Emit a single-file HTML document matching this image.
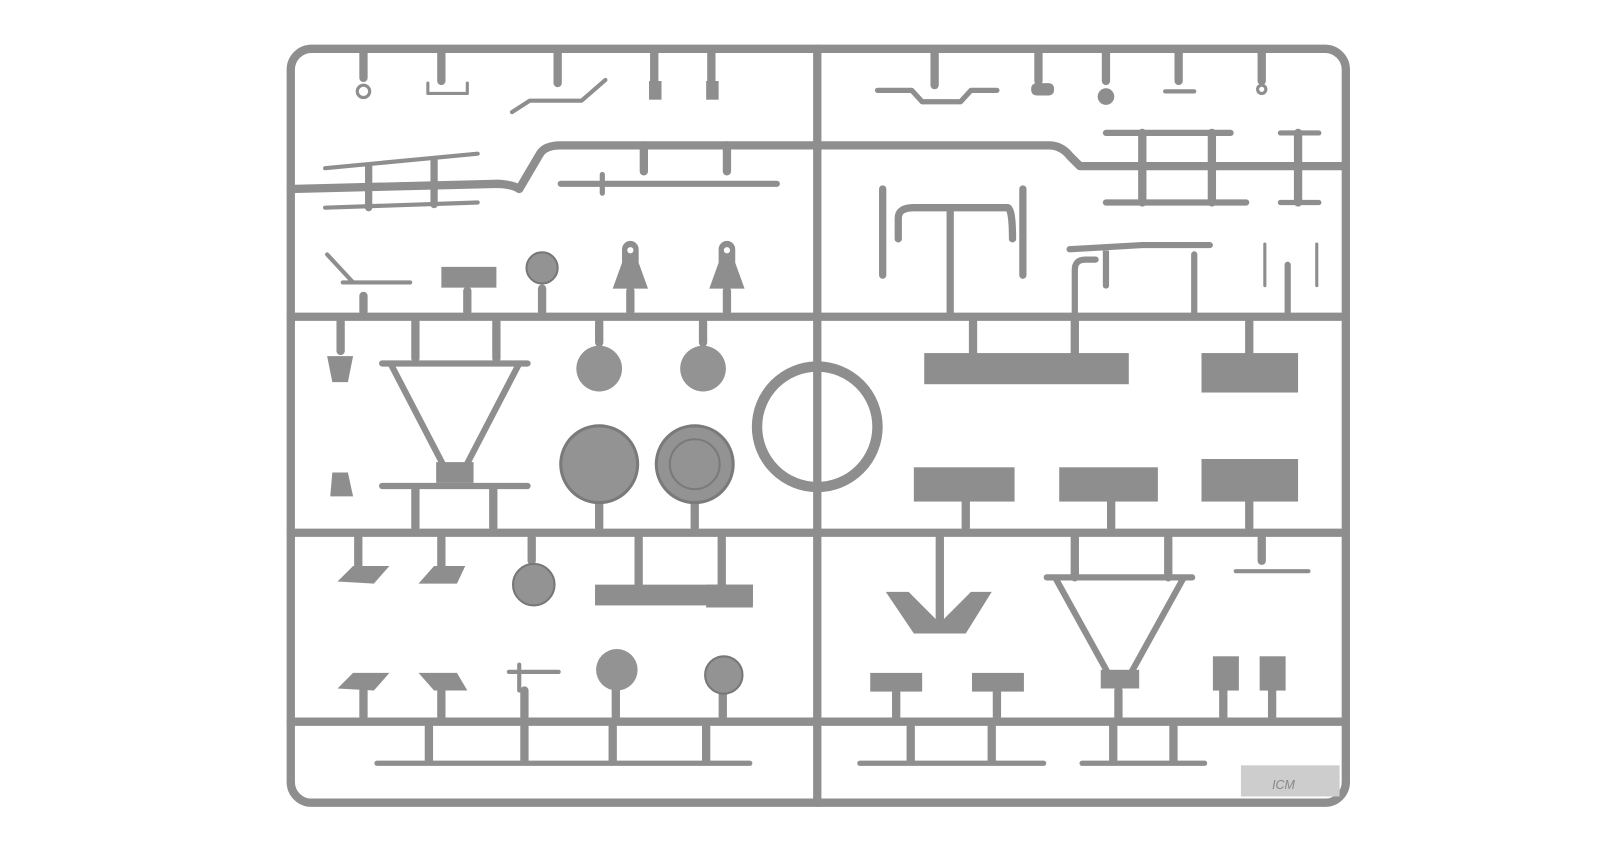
<!DOCTYPE html>
<html><head><meta charset="utf-8"><style>
html,body{margin:0;padding:0;background:#fff;width:1620px;height:851px;overflow:hidden}
svg{display:block}
</style></head><body>
<svg width="1620" height="851" viewBox="0 0 1560 819.5" xmlns="http://www.w3.org/2000/svg">
<g fill="none" stroke="#8e8e8e" stroke-linecap="round" stroke-linejoin="round">
<rect x="280" y="47" width="1016" height="726" rx="20" stroke-width="8"/>
<line x1="787" y1="47" x2="787" y2="773" stroke-width="8"/>
<line x1="280" y1="305" x2="1296" y2="305" stroke-width="8"/>
<line x1="280" y1="513" x2="1296" y2="513" stroke-width="8"/>
<line x1="280" y1="695" x2="1296" y2="695" stroke-width="8"/>
<path d="M280 182 L480 177 Q495 178 500 182 L520 148 Q525 140 540 140 L1010 140 Q1022 140 1030 150 L1040 160 L1296 160" stroke-width="8"/>
<line x1="313" y1="162" x2="460" y2="148" stroke-width="4"/>
<line x1="313" y1="200" x2="460" y2="195" stroke-width="4"/>
<line x1="355" y1="160" x2="355" y2="200" stroke-width="7"/>
<line x1="418" y1="155" x2="418" y2="197" stroke-width="7"/>
<line x1="540" y1="177" x2="748" y2="177" stroke-width="6"/>
<line x1="580" y1="168" x2="580" y2="186" stroke-width="5"/>
<line x1="620" y1="140" x2="620" y2="165" stroke-width="8"/>
<line x1="700" y1="140" x2="700" y2="165" stroke-width="8"/>
<line x1="1065" y1="128" x2="1185" y2="128" stroke-width="6"/>
<line x1="1065" y1="195" x2="1200" y2="195" stroke-width="6"/>
<line x1="1233" y1="128" x2="1270" y2="128" stroke-width="5"/>
<line x1="1233" y1="195" x2="1270" y2="195" stroke-width="5"/>
<line x1="1100" y1="128" x2="1100" y2="195" stroke-width="8"/>
<line x1="1167" y1="128" x2="1167" y2="195" stroke-width="8"/>
<line x1="1250" y1="128" x2="1250" y2="195" stroke-width="8"/>
<g stroke-width="8">
<line x1="350" y1="50" x2="350" y2="75"/><line x1="425" y1="50" x2="425" y2="78"/><line x1="537" y1="50" x2="537" y2="80"/>
<line x1="630" y1="50" x2="630" y2="80"/><line x1="685" y1="50" x2="685" y2="80"/><line x1="900" y1="50" x2="900" y2="82"/>
<line x1="1000" y1="50" x2="1000" y2="78"/><line x1="1065" y1="50" x2="1065" y2="78"/><line x1="1135" y1="50" x2="1135" y2="78"/><line x1="1215" y1="50" x2="1215" y2="78"/>
</g>
<circle cx="350" cy="88" r="6" stroke-width="3"/>
<path d="M412 80 L412 90 L450 90 L450 80" stroke-width="3"/>
<path d="M493 108 L510 97 L560 97 L583 77" stroke-width="4"/>
<path d="M845 87 L878 87 L888 98 L925 98 L935 87 L960 87" stroke-width="5"/>
<line x1="1122" y1="88" x2="1150" y2="88" stroke-width="4"/>
<circle cx="1215" cy="86" r="4" stroke-width="3"/>
<path d="M850 265 L850 182 M985 265 L985 182 M865 230 L865 210 Q865 200 880 200 L970 200 Q975 200 975 230 M915 200 L915 305" stroke-width="7"/>
<path d="M1030 240 L1100 236 L1165 236 M1035 305 L1035 260 Q1035 250 1045 250 L1055 250 M1065 275 L1065 240 M1150 305 L1150 245 M1240 305 L1240 255" stroke-width="6"/>
<path d="M1218 235 L1218 275 M1268 235 L1268 275" stroke-width="3"/>
<g stroke-width="8">
<line x1="350" y1="300" x2="350" y2="285"/><line x1="450" y1="300" x2="450" y2="280"/><line x1="522" y1="300" x2="522" y2="278"/>
<line x1="607" y1="300" x2="607" y2="280"/><line x1="700" y1="300" x2="700" y2="280"/>
<line x1="328" y1="310" x2="328" y2="338"/><line x1="400" y1="310" x2="400" y2="345"/><line x1="478" y1="310" x2="478" y2="345"/>
<line x1="577" y1="310" x2="577" y2="330"/><line x1="677" y1="310" x2="677" y2="330"/>
<line x1="937" y1="310" x2="937" y2="340"/><line x1="1035" y1="310" x2="1035" y2="340"/><line x1="1203" y1="310" x2="1203" y2="340"/>
<line x1="400" y1="470" x2="400" y2="508"/><line x1="475" y1="470" x2="475" y2="508"/>
<line x1="577" y1="484" x2="577" y2="508"/><line x1="669" y1="484" x2="669" y2="508"/>
<line x1="930" y1="483" x2="930" y2="508"/><line x1="1070" y1="483" x2="1070" y2="508"/><line x1="1203" y1="483" x2="1203" y2="508"/>
<line x1="345" y1="518" x2="345" y2="545"/><line x1="425" y1="518" x2="425" y2="545"/><line x1="512" y1="518" x2="512" y2="540"/>
<line x1="615" y1="518" x2="615" y2="563"/><line x1="695" y1="518" x2="695" y2="563"/>
<line x1="905" y1="518" x2="905" y2="600"/><line x1="1035" y1="518" x2="1035" y2="556"/><line x1="1125" y1="518" x2="1125" y2="556"/><line x1="1215" y1="518" x2="1215" y2="540"/>
<line x1="350" y1="690" x2="350" y2="665"/><line x1="425" y1="690" x2="425" y2="665"/><line x1="505" y1="690" x2="505" y2="665"/>
<line x1="593" y1="690" x2="593" y2="665"/><line x1="696" y1="690" x2="696" y2="665"/>
<line x1="863" y1="690" x2="863" y2="665"/><line x1="960" y1="690" x2="960" y2="665"/><line x1="1077" y1="690" x2="1077" y2="665"/>
<line x1="1178" y1="690" x2="1178" y2="665"/><line x1="1225" y1="690" x2="1225" y2="665"/>
<line x1="413" y1="700" x2="413" y2="733"/><line x1="505" y1="700" x2="505" y2="733"/><line x1="590" y1="700" x2="590" y2="733"/><line x1="680" y1="700" x2="680" y2="733"/>
<line x1="877" y1="700" x2="877" y2="733"/><line x1="955" y1="700" x2="955" y2="733"/><line x1="1072" y1="700" x2="1072" y2="733"/><line x1="1130" y1="700" x2="1130" y2="733"/>
</g>
<path d="M368 350 L508 350 M376 350 L428 450 M500 350 L448 450 M368 468 L508 468" stroke-width="6"/>
<path d="M1008 556 L1148 556 M1016 556 L1068 650 M1140 556 L1088 650" stroke-width="6"/>
<circle cx="787" cy="411" r="58" stroke-width="10"/>
<line x1="363" y1="735" x2="722" y2="735" stroke-width="5"/>
<line x1="828" y1="735" x2="1005" y2="735" stroke-width="5"/>
<line x1="1042" y1="735" x2="1160" y2="735" stroke-width="5"/>
<line x1="315" y1="245" x2="340" y2="272" stroke-width="4"/>
<line x1="330" y1="272" x2="395" y2="272" stroke-width="4"/>
<line x1="1190" y1="550" x2="1260" y2="550" stroke-width="4"/>
<path d="M500 640 L500 665 M490 647 L538 647" stroke-width="4"/>
</g>
<g fill="#8e8e8e">
<rect x="420" y="445" width="36" height="20"/>
<circle cx="577" cy="447" r="37" fill="#939393" stroke="#7a7a7a" stroke-width="3"/>
<circle cx="669" cy="447" r="37" fill="#939393" stroke="#7a7a7a" stroke-width="3"/>
<circle cx="669" cy="447" r="24" fill="none" stroke="#7a7a7a" stroke-width="2"/>
<circle cx="577" cy="355" r="22" fill="#939393"/>
<circle cx="677" cy="355" r="22" fill="#939393"/>
<circle cx="522" cy="258" r="15" fill="#939393" stroke="#777" stroke-width="2"/>
<circle cx="514" cy="563" r="20" fill="#939393" stroke="#777" stroke-width="2"/>
<circle cx="594" cy="645" r="20" fill="#939393"/>
<circle cx="697" cy="650" r="18" fill="#939393" stroke="#777" stroke-width="2"/>
<rect x="425" y="257" width="53" height="20"/>
<path d="M599 253 L599 240 A8 8 0 0 1 615 240 L615 253 L624 278 L590 278 Z M692 253 L692 240 A8 8 0 0 1 708 240 L708 253 L717 278 L683 278 Z"/>
<circle cx="607" cy="241" r="3" fill="#fff"/><circle cx="700" cy="241" r="3" fill="#fff"/>
<path d="M315 343 L340 343 L335 368 L320 368 Z"/>
<path d="M318 478 L320 455 L335 455 L340 478 Z"/>
<rect x="890" y="340" width="197" height="30"/>
<rect x="1157" y="340" width="93" height="38"/>
<rect x="880" y="450" width="97" height="33"/>
<rect x="1020" y="450" width="95" height="33"/>
<rect x="1157" y="442" width="93" height="41"/>
<rect x="573" y="563" width="152" height="20"/>
<rect x="680" y="563" width="45" height="22"/>
<path d="M325 560 L340 545 L375 545 L360 562 Z M403 562 L418 545 L448 545 L440 562 Z"/>
<path d="M325 663 L340 648 L375 648 L360 665 Z M403 648 L440 648 L450 665 L418 665 Z"/>
<path d="M853 570 L875 570 L905 600 L935 570 L955 570 L930 610 L880 610 Z"/>
<rect x="838" y="648" width="50" height="18"/>
<rect x="936" y="648" width="50" height="18"/>
<rect x="1168" y="632" width="25" height="33"/>
<rect x="1213" y="632" width="25" height="33"/>
<rect x="1060" y="645" width="37" height="18"/>
<rect x="1195" y="737" width="95" height="30" fill="#cdcdcd"/>
<rect x="993" y="80" width="22" height="12" rx="5"/>
<circle cx="1065" cy="93" r="8"/>
<rect x="625" y="78" width="12" height="18"/>
<rect x="680" y="78" width="12" height="18"/>
</g>
<text x="1225" y="760" font-family="Liberation Sans, sans-serif" font-size="12" fill="#888" font-style="italic">ICM</text>
</svg>
</body></html>
